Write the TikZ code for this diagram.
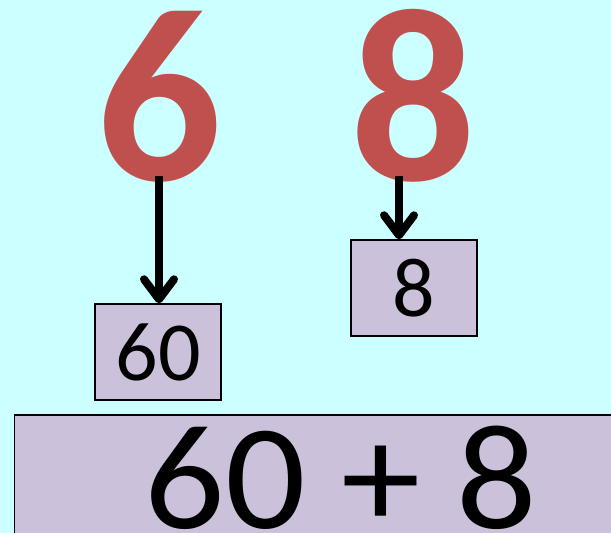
\documentclass[tikz,border=0pt]{standalone}
\usepackage{fontspec}
\setmainfont{Carlito}
\newfontfamily\sumfont[FakeStretch=1.06]{Carlito}
\usetikzlibrary{arrows.meta}
\definecolor{bgcyan}{HTML}{CCFFFF}
\definecolor{digitred}{HTML}{C0504D}
\definecolor{lav}{HTML}{CCC1DA}
\tikzset{
  bigdigit/.style={inner sep=0pt, anchor=base, text=digitred, font=\bfseries\fontsize{248}{248}\selectfont},
  valbox/.style={draw=black, line width=1.5pt, fill=lav, minimum width=126pt, minimum height=96pt, inner sep=0pt, font=\fontsize{84}{84}\selectfont},
  arr/.style={line width=8pt, -{Straight Barb[length=20pt, width=30pt, round]}},
}
\begin{document}
\begin{tikzpicture}[x=1pt,y=1pt]
\useasboundingbox (0,0) rectangle (611,-533);
\clip (0,0) rectangle (611,-533);
\fill[bgcyan] (0,0) rectangle (611,-533);
\node[bigdigit] (six) at (159,-180) {6};
\node[bigdigit] (eight) at (413.5,-180) {8};
\node[valbox] (b60) at (158,-352) {60};
\node[valbox] (b8) at (414,-288) {8};
\coordinate (s6) at ([yshift=4pt]six.base);
\coordinate (s8) at ([xshift=-14.5pt, yshift=4pt]eight.base);
\draw[arr] (s6) -- (b60.north -| s6);
\draw[arr] (s8) -- (b8.north -| s8);
\draw[line width=1.5pt, fill=lav] (14.5,-415) rectangle (640,-560);
\node[inner sep=0pt, anchor=base, font=\sumfont\fontsize{150}{150}\selectfont] (sum) at (341,-528) {60 + 8};
\end{tikzpicture}
\end{document}
